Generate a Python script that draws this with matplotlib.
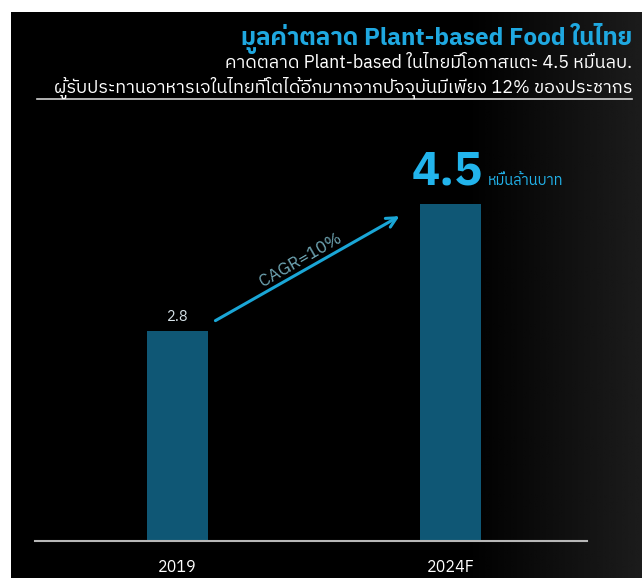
import matplotlib.pyplot as plt
import numpy as np
from matplotlib import font_manager, ft2font

# data
years = ["2019", "2024F"]
values = [2.8, 4.5]
value_labels = ["2.8", "4.5"]
cagr_label = "CAGR=10%"
unit_label = "หมื่นล้านบาท"
title = "มูลค่าตลาด Plant-based Food ในไทย"
subtitle_1 = "คาดตลาด Plant-based ในไทยมีโอกาสแตะ 4.5 หมื่นลบ."
subtitle_2 = "ผู้รับประทานอาหารเจในไทยที่โตได้อีกมากจากปัจจุบันมีเพียง 12% ของประชากร"


def thai_families():
    # look for any installed font that has Thai glyphs
    found = []
    for f in font_manager.fontManager.ttflist:
        try:
            if ft2font.FT2Font(f.fname).get_char_index(0x0E01) and f.name not in found:
                found.append(f.name)
        except Exception:
            pass
    found.sort(key=lambda n: ("Sans" not in n, n))
    return found


thai = thai_families()
plt.rcParams['font.family'] = thai[:1] + ['DejaVu Sans']

W, H = 642, 578
fig = plt.figure(figsize=(W / 100, H / 100), dpi=100, facecolor="white")

# dark panel with a slight grey glow on the right
bg = fig.add_axes([11 / W, 0, (W - 11) / W, (H - 12) / H])
grad = np.clip((np.linspace(0, 1, 300) - 0.72) / 0.28, 0, 1) * 0.11
bg.imshow(np.tile(grad, (10, 1)), cmap="gray", vmin=0, vmax=1, aspect="auto",
          extent=[0, 1, 0, 1])
bg.set_axis_off()

# chart axes
left, right = 35, 587
ax = fig.add_axes([left / W, (H - 541) / H, (right - left) / W, 375 / H])
ax.patch.set_alpha(0)
ax.bar([0, 1], values, width=0.222, color="#0f5775")
ax.set_xlim(-0.522, 1.5)
ax.set_ylim(0, 5)
for s in ["top", "left", "right"]:
    ax.spines[s].set_visible(False)
ax.spines["bottom"].set_color("#b8b8b8")
ax.spines["bottom"].set_linewidth(1.5)
ax.set_yticks([])
ax.set_xticks([0, 1])
ax.set_xticklabels(years, color="white", fontsize=11.5)
ax.tick_params(axis="x", length=0, pad=13)

# value labels
ax.text(0, values[0] + 0.1, value_labels[0], ha="center", va="bottom",
        color="#d8e4ea", fontsize=10.5)
ax.text(1.12, values[1] + 0.25, value_labels[1], ha="right", va="baseline",
        color="#22b4ec", fontsize=34, fontweight="bold")
ax.text(1.135, values[1] + 0.25, unit_label, ha="left", va="baseline",
        color="#22b4ec", fontsize=10.5)

# growth arrow
ax.annotate("", xy=(0.822, 4.35), xytext=(0.13, 2.92),
            arrowprops=dict(arrowstyle="->", color="#1aa6d6", lw=2.2,
                            mutation_scale=18))
ax.text(0.45, 3.75, cagr_label, rotation=30, ha="center", va="center",
        color="#6fa6b4", fontsize=12.5)

# header
fig.text(632 / W, 1 - 38 / H, title, ha="right", va="center",
         color="#1fa8e0", fontsize=17.5, fontweight="bold")
fig.text(632 / W, 1 - 63 / H, subtitle_1, ha="right", va="center",
         color="white", fontsize=13)
fig.text(632 / W, 1 - 88 / H, subtitle_2, ha="right", va="center",
         color="white", fontsize=13)
fig.add_artist(plt.Line2D([37 / W, 632 / W], [1 - 99 / H, 1 - 99 / H],
                          color="#d0d0d0", lw=1.2))

fig.savefig("out.png", dpi=100, facecolor="white")
